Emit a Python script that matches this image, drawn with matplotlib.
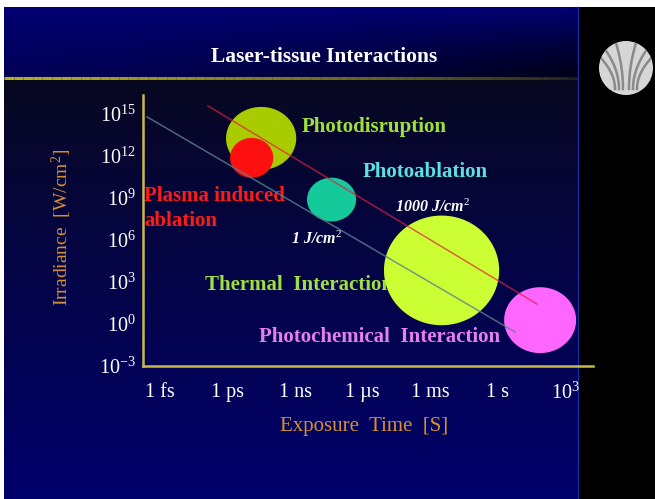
import numpy as np
import matplotlib.pyplot as plt
from matplotlib.patches import Circle

plt.rcParams['font.family'] = 'Liberation Serif'
plt.rcParams['mathtext.fontset'] = 'custom'
plt.rcParams['mathtext.rm'] = 'Liberation Serif'
plt.rcParams['mathtext.it'] = 'Liberation Serif:italic'
plt.rcParams['mathtext.bf'] = 'Liberation Serif:bold'
plt.rcParams['axes.unicode_minus'] = False

# exposure time ticks (log10 seconds) and irradiance ticks (log10 W/cm^2)
x_tick_exp = [-15, -12, -9, -6, -3, 0, 3]
x_tick_labels = ['1 fs', '1 ps', '1 ns', '1 \u00b5s', '1 ms', '1 s', '$10^3$']
y_tick_exp = [15, 12, 9, 6, 3, 0, -3]

# interaction regions: centre (log10 t, log10 I) and half extents in decades
region_names = ['Photodisruption', 'Plasma induced ablation', 'Photoablation',
                'Thermal Interaction', 'Photochemical Interaction']
region_logt = [-10.51, -10.93, -7.38, -2.49, 1.89]
region_logI = [13.24, 11.85, 8.87, 3.82, 0.27]
region_rt = [1.56, 0.96, 1.09, 2.56, 1.60]
region_rI = [2.24, 1.42, 1.56, 3.91, 2.35]
region_colors = ['#a8cc00', '#ff1010', '#14c99a', '#ccff33', '#ff66ff']

# constant fluence lines (log10 t, log10 I endpoints)
fluence_1000_t = [-12.87, 1.76]
fluence_1000_I = [15.55, 1.41]
fluence_1_t = [-15.58, 0.78]
fluence_1_I = [14.77, -0.58]

W, H = 655, 499
fig = plt.figure(figsize=(W / 100, H / 100), dpi=100)

# slide background in pixel coordinates
bg = fig.add_axes([0, 0, 1, 1])
bg.set_xlim(0, W)
bg.set_ylim(H, 0)
bg.axis('off')

yy, xx = np.mgrid[0:H, 0:W].astype(float)
blue = np.zeros((H, W))
top = yy < 78
t = np.clip((yy - 7) / 71, 0, 1)
blue[top] = ((0.45 - 0.12 * t) * (1 - 0.75 * t * (xx / 578) ** 1.5))[top]
low = np.clip((yy - 80) / (H - 80), 0, 1)
blue[~top] = (0.09 + 0.33 * low ** 0.85)[~top]
grey = np.where(~top, 0.03 * (1 - low), 0)
img = np.dstack([grey, grey, blue + grey])
img[:, 578:] = 0
img[:7, :] = 1
img[:, :4] = 1
bg.imshow(img, extent=(0, W, H, 0), aspect='auto', interpolation='bilinear')

# fading rule under the title
n_seg = 60
xs = np.linspace(4, 578, n_seg + 1)
for i in range(n_seg):
    a = 0.9 * (1 - i / n_seg) ** 0.7 + 0.1
    bg.plot(xs[i:i + 2], [78, 78], color='#b8b020', lw=2.2, alpha=a,
            solid_capstyle='butt')
bg.plot([577.5, 577.5], [7, H], color='#1a2aa0', lw=1.0)

bg.text(324, 57, 'Laser-tissue Interactions', color='white', fontsize=15.5,
        fontweight='bold', ha='center', va='center')

# logo
cx, cy, r = 626, 68, 27
logo = Circle((cx, cy), r, facecolor='#d6d6d6', edgecolor='none')
bg.add_patch(logo)
s = np.linspace(0, 1, 50)
for off, spread in [(-3, -9), (3, 9), (-7, -24), (7, 24), (-11, -40), (11, 40)]:
    px = cx + off + spread * s ** 2
    py = cy + r - 6 - s * 52
    ln, = bg.plot(px, py, color='#8a8a8a', lw=1.8)
    ln.set_clip_path(logo)

bg.text(62, 227, 'Irradiance  [W/cm$^2$]', color='#d8902e', fontsize=14,
        rotation=90, ha='center', va='center')
bg.text(364, 426, 'Exposure  Time  [S]', color='#d8902e', fontsize=15,
        ha='center', va='center')

# chart
ax = fig.add_axes([143 / W, 1 - 366 / H, 450 / W, 271 / H])
ax.set_facecolor('none')
ax.set_xscale('log')
ax.set_yscale('log')
ax.set_xlim(10 ** -15.76, 10 ** 4.24)
ax.set_ylim(10 ** -2.93, 10 ** 16.33)

for side in ['top', 'right']:
    ax.spines[side].set_visible(False)
for side in ['left', 'bottom']:
    ax.spines[side].set_color('#c8b848')
    ax.spines[side].set_linewidth(1.8)

ax.set_xticks([10.0 ** e for e in x_tick_exp])
ax.set_xticklabels(x_tick_labels)
ax.set_yticks([10.0 ** e for e in y_tick_exp])
ax.set_yticklabels(['$10^{%d}$' % e for e in y_tick_exp])
ax.minorticks_off()
ax.tick_params(length=0, colors='white', labelsize=14.5)
ax.tick_params(axis='x', pad=12)
ax.tick_params(axis='y', pad=5)

ang = np.linspace(0, 2 * np.pi, 200)
for lt, lI, rt, rI, c in zip(region_logt, region_logI, region_rt, region_rI,
                             region_colors):
    ax.fill(10 ** (lt + rt * np.cos(ang)), 10 ** (lI + rI * np.sin(ang)),
            color=c, lw=0, zorder=3)

ax.plot(10.0 ** np.array(fluence_1000_t), 10.0 ** np.array(fluence_1000_I),
        color='#e02040', lw=1.1, alpha=0.7, zorder=4)
ax.plot(10.0 ** np.array(fluence_1_t), 10.0 ** np.array(fluence_1_I),
        color='#5c8090', lw=1.1, alpha=0.8, zorder=4)

label_kw = dict(fontsize=15, fontweight='bold', va='center', zorder=2)
ax.text(10 ** -8.69, 10 ** 14.06, 'Photodisruption', color='#9ee040', **label_kw)
ax.text(10 ** -5.98, 10 ** 10.86, 'Photoablation', color='#5ce0e4', **label_kw)
ax.text(10 ** -15.71, 10 ** 8.25, 'Plasma induced\nablation', color='#ff1a1a',
        linespacing=1.3, **label_kw)
ax.text(10 ** -13.0, 10 ** 2.76, 'Thermal  Interaction', color='#9ee040', **label_kw)
ax.text(10 ** -10.6, 10 ** -0.94, 'Photochemical  Interaction', color='#e67ef0',
        **label_kw)

fl_kw = dict(fontsize=11.5, fontweight='bold', style='italic', color='white',
             va='center', zorder=5)
ax.text(10 ** -4.56, 10 ** 8.3, '1000 J/cm$^2$', **fl_kw)
ax.text(10 ** -9.18, 10 ** 6.03, '1 J/cm$^2$', **fl_kw)

fig.savefig('out.png', dpi=100)
